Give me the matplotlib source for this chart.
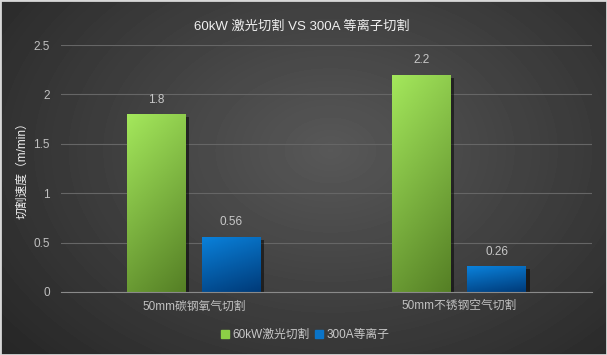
import numpy as np
import matplotlib.pyplot as plt
from matplotlib.patches import Rectangle
from matplotlib.colors import to_rgb

plt.rcParams['font.family'] = ['Liberation Sans', 'Noto Sans CJK SC']

categories = ["50mm碳钢氧气切割", "50mm不锈钢空气切割"]
laser = [1.8, 2.2]
plasma = [0.56, 0.26]
series_names = ["60kW激光切割", "300A等离子"]
title = "60kW 激光切割 VS 300A 等离子切割"
ylabel = "切割速度（m/min）"
yticks = [0, 0.5, 1, 1.5, 2, 2.5]
ytick_labels = ["0", "0.5", "1", "1.5", "2", "2.5"]

fig = plt.figure(figsize=(6.07, 3.55), dpi=100)

# radial background
bg = fig.add_axes([0, 0, 1, 1], zorder=-10)
yy, xx = np.mgrid[0:355, 0:607]
r = np.sqrt(((xx - 330) / 420.0) ** 2 + ((yy - 150) / 300.0) ** 2)
val = np.clip(0.345 - 0.19 * r, 0.13, 0.345)
bg.imshow(val, cmap="gray", vmin=0, vmax=1, aspect="auto", extent=[0, 1, 0, 1])
bg.add_patch(Rectangle((0, 0), 1, 1, transform=bg.transAxes, fill=False,
                       edgecolor="#d8d8d8", linewidth=2))
bg.set_axis_off()

ax = fig.add_axes([61 / 607, 1 - 292 / 355, (592 - 61) / 607, (292 - 45) / 355])
ax.patch.set_alpha(0)

x = np.arange(len(categories))
w = 0.222
off = 0.142

def grad_bar(xpos, h, c_light, c_dark):
    bars = ax.bar(xpos, h, w, color="none", zorder=3)
    c1 = np.array(to_rgb(c_light))
    c2 = np.array(to_rgb(c_dark))
    for b in bars:
        bx, by = b.get_x(), b.get_y()
        bw, bh = b.get_width(), b.get_height()
        # shadow
        ax.add_patch(Rectangle((bx + 0.012, by), bw, bh - 0.03, color="black",
                               alpha=0.5, zorder=2, linewidth=0))
        gx, gy = np.meshgrid(np.linspace(0, 1, 50), np.linspace(0, 1, 100))
        t = 0.3 * gx + 0.85 * gy
        t = t / t.max()
        img = c1[None, None, :] * (1 - t[..., None]) + c2[None, None, :] * t[..., None]
        im = ax.imshow(img, extent=[bx, bx + bw, by, by + bh], origin="upper",
                       aspect="auto", zorder=3)
        im.set_clip_path(b)
    return bars

b1 = grad_bar(x - off, laser, "#a4e85c", "#557f25")
b2 = grad_bar(x + off, plasma, "#0a82dc", "#003a78")

for xi, v in zip(x - off, laser):
    ax.text(xi, v + 0.145, f"{v:g}", ha="center", va="center", color="#c8c8c8", fontsize=8.5)
for xi, v in zip(x + off, plasma):
    ax.text(xi, v + 0.145, f"{v:g}", ha="center", va="center", color="#c8c8c8", fontsize=8.5)

ax.set_xlim(-0.5, 1.5)
ax.set_ylim(0, 2.5)
ax.set_yticks(yticks)
ax.set_yticklabels(ytick_labels)
ax.set_xticks(x)
ax.set_xticklabels(categories)
ax.tick_params(axis="both", length=0, colors="#c0c0c0", labelsize=8.5)
ax.tick_params(axis="y", pad=8)
ax.tick_params(axis="x", pad=6)
ax.grid(axis="y", color="#666666", linewidth=0.8, zorder=0)
ax.set_axisbelow(True)
for s in ["top", "right", "left"]:
    ax.spines[s].set_visible(False)
ax.spines["bottom"].set_color("#8a8a8a")
ax.spines["bottom"].set_zorder(4)

fig.text(302 / 607, 1 - 27 / 355, title, ha="center", va="center", color="#f0f0f0", fontsize=9.5)
fig.text(22 / 607, 1 - 168 / 355, ylabel, ha="center", va="center", rotation=90,
         color="#f0f0f0", fontsize=8.5)

handles = [Rectangle((0, 0), 1, 1, color="#8ccf46"), Rectangle((0, 0), 1, 1, color="#0a74c8")]
leg = fig.legend(handles, series_names, loc="center", bbox_to_anchor=(305 / 607, 1 - 335 / 355),
                 ncol=2, frameon=False, fontsize=8.5, handlelength=0.7, handleheight=0.7,
                 handletextpad=0.3, columnspacing=0.4, labelcolor="#c8c8c8")

fig.savefig("out.png", dpi=100)
